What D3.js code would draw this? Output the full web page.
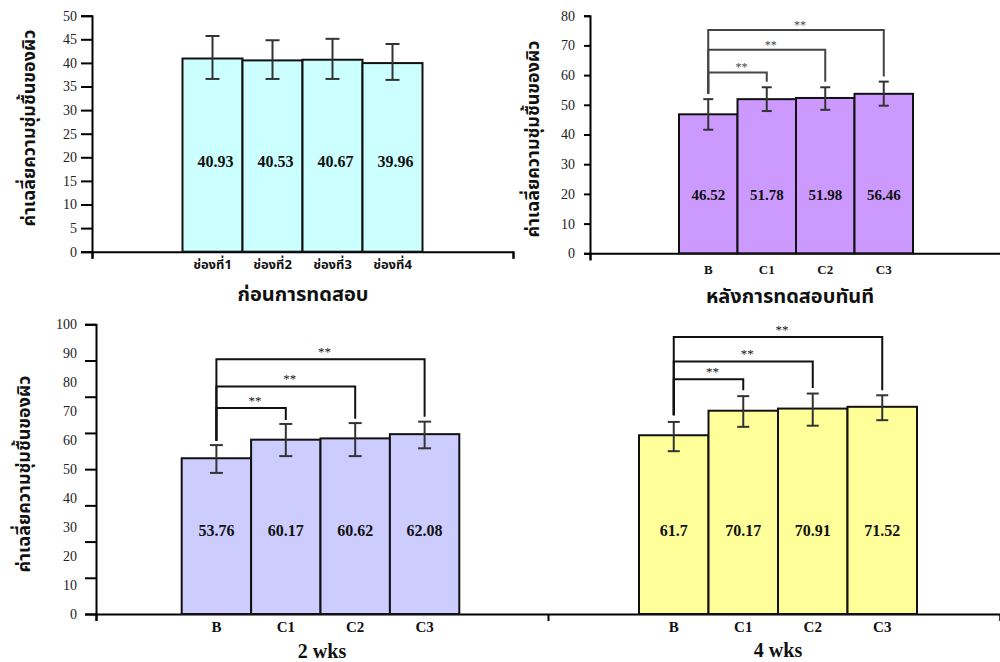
<!DOCTYPE html>
<html>
<head>
<meta charset="utf-8">
<script src="https://cdn.jsdelivr.net/npm/d3@7"></script>
<style>
  html, body { margin: 0; padding: 0; background: #fff; }
  svg { display: block; }
  .serif { font-family: "Liberation Serif", "Times New Roman", serif; }
  .thai { font-family: "Noto Sans Thai", "Loma", "Garuda", "Tlwg Typo", "DejaVu Sans", sans-serif; }
</style>
</head>
<body>
<svg id="chart" width="1000" height="662"></svg>
<script>
// ---------- DATA ----------
const yLabelText = "ค่าเฉลี่ยความชุ่มชื้นของผิว";

// Panel 1: before test
const beforeTitle = "ก่อนการทดสอบ";
const beforeCats = ["ช่องที่1", "ช่องที่2", "ช่องที่3", "ช่องที่4"];
const beforeValues = [40.93, 40.53, 40.67, 39.96];
const beforeLabels = ["40.93", "40.53", "40.67", "39.96"];
const beforeErrHigh = [45.7, 44.8, 45.1, 44.0];
const beforeErrLow = [36.6, 36.6, 36.6, 36.4];
const beforeTicks = [0, 5, 10, 15, 20, 25, 30, 35, 40, 45, 50];

// Shared group categories
const groupCats = ["B", "C1", "C2", "C3"];

// Panel 2: immediately after test (bar heights as drawn, labels as printed)
const afterTitle = "หลังการทดสอบทันที";
const afterValues = [46.8, 51.9, 52.3, 53.7];
const afterLabels = ["46.52", "51.78", "51.98", "56.46"];
const afterErrHigh = [51.9, 55.9, 55.9, 57.8];
const afterErrLow = [41.6, 47.9, 48.3, 49.7];
const afterBracketLevels = [60.9, 68.5, 75.2];
const afterBracketStart = 53.7;
const afterBracketEnds = [57.8, 57.8, 59.5];
const afterTicks = [0, 10, 20, 30, 40, 50, 60, 70, 80];

// Panel 3: 2 wks and 4 wks
const wk2Title = "2 wks";
const wk2Values = [53.76, 60.17, 60.62, 62.08];
const wk2Labels = ["53.76", "60.17", "60.62", "62.08"];
const wk2ErrHigh = [58.3, 65.6, 65.9, 66.4];
const wk2ErrLow = [48.7, 54.5, 54.5, 57.2];
const wk2BracketLevels = [71.1, 78.5, 87.9];
const wk2BracketStart = 59.8;
const wk2BracketEnds = [67.0, 67.4, 68.1];

const wk4Title = "4 wks";
const wk4Values = [61.7, 70.17, 70.91, 71.52];
const wk4Labels = ["61.7", "70.17", "70.91", "71.52"];
const wk4ErrHigh = [66.3, 75.2, 76.1, 75.5];
const wk4ErrLow = [56.2, 64.6, 65.0, 66.9];
const wk4BracketLevels = [81.0, 87.2, 95.6];
const wk4BracketStart = 68.6;
const wk4BracketEnds = [77.2, 78.0, 77.2];

const bottomTickLabels = [0, 10, 20, 30, 40, 50, 60, 70, 80, 90, 100];
const bottomTickMarks = [0, 12.5, 25, 37.5, 50, 62.5, 75, 87.5, 100];
const sigMark = "**";

// ---------- DRAWING ----------
const svg = d3.select("#chart");

function yAxis(g, y, x, ticks, opts) {
  const ax = g.append("g").attr("transform", `translate(${x},0)`);
  const a = d3.axisLeft(y).tickValues(ticks).tickSizeOuter(0)
    .tickSize(opts.tickSize).tickPadding(opts.pad);
  if (opts.noLabels) a.tickFormat("");
  ax.call(a);
  ax.select(".domain").attr("stroke", "#000").attr("stroke-width", 2);
  ax.selectAll(".tick line").attr("stroke", "#000").attr("stroke-width", 2);
  ax.selectAll(".tick text").attr("class", "serif").attr("font-size", opts.fs || 14).attr("fill", "#222");
  if (opts.noLine) ax.select(".domain").remove();
  return ax;
}

function xBaseline(g, x0, x1, yPix, boundaries) {
  const s = d3.scaleLinear().domain([0, boundaries]).range([x0, x1]);
  const ax = g.append("g").attr("transform", `translate(0,${yPix})`);
  ax.call(d3.axisBottom(s).tickValues(d3.range(boundaries + 1)).tickSizeOuter(0).tickSize(7).tickFormat(""));
  ax.select(".domain").attr("stroke", "#000").attr("stroke-width", 2);
  ax.selectAll(".tick line").attr("stroke", "#000").attr("stroke-width", 2);
}

function bars(g, cats, values, labels, errHi, errLo, x, y, o) {
  const data = cats.map((c, i) => ({ c, v: values[i], lab: labels[i], hi: errHi[i], lo: errLo[i] }));
  g.selectAll(null).data(data).enter().append("rect")
    .attr("x", d => x(d.c)).attr("width", x.bandwidth())
    .attr("y", d => y(d.v)).attr("height", d => y(0) - y(d.v))
    .attr("fill", o.fill).attr("stroke", "#111").attr("stroke-width", 2);
  const cx = d => x(d.c) + x.bandwidth() / 2;
  // error bars
  const eb = g.selectAll(null).data(data).enter().append("g");
  eb.append("line").attr("x1", cx).attr("x2", cx).attr("y1", d => y(d.hi)).attr("y2", d => y(d.lo))
    .attr("stroke", "#333").attr("stroke-width", 2);
  ["hi", "lo"].forEach(k => {
    eb.append("line").attr("x1", d => cx(d) - o.cap / 2).attr("x2", d => cx(d) + o.cap / 2)
      .attr("y1", d => y(d[k])).attr("y2", d => y(d[k]))
      .attr("stroke", "#333").attr("stroke-width", 2);
  });
  // value labels
  g.selectAll(null).data(data).enter().append("text")
    .attr("class", "serif").attr("font-weight", "bold").attr("font-size", o.valFs)
    .attr("x", d => cx(d) + (o.valDx || 0)).attr("y", o.valY).attr("text-anchor", "middle")
    .attr("dominant-baseline", "central").attr("fill", "#111").text(d => d.lab);
  // category labels
  g.selectAll(null).data(data).enter().append("text")
    .attr("class", o.catClass).attr("font-weight", "bold").attr("font-size", o.catFs)
    .attr("x", cx).attr("y", o.catY).attr("text-anchor", "middle")
    .attr("dominant-baseline", "central").attr("fill", "#111").text(d => d.c);
}

function brackets(g, cats, levels, start, ends, x, y, o) {
  const cx = c => x(c) + x.bandwidth() / 2;
  const xb = cx(cats[0]);
  levels.forEach((lv, i) => {
    const xe = cx(cats[i + 1]);
    g.append("path")
      .attr("d", `M${xb},${y(start)}V${y(lv)}H${xe}V${y(ends[i])}`)
      .attr("fill", "none").attr("stroke", o.color).attr("stroke-width", 2);
    g.append("text").attr("class", "serif").attr("font-size", o.fs)
      .style("fill", o.color)
      .attr("x", (xb + xe) / 2 + 4).attr("y", y(lv) - o.dy)
      .attr("text-anchor", "middle").attr("dominant-baseline", "central").text(sigMark);
  });
}

function yLabel(g, cx, cy, fs) {
  g.append("text").attr("class", "thai").attr("font-weight", "bold").attr("font-size", fs)
    .attr("transform", `translate(${cx},${cy}) rotate(-90)`)
    .attr("text-anchor", "middle").attr("dominant-baseline", "central").attr("fill", "#111")
    .text(yLabelText);
}

function title(g, text, cx, cy, fs, cls) {
  g.append("text").attr("class", cls).attr("font-weight", "bold").attr("font-size", fs)
    .attr("x", cx).attr("y", cy).attr("text-anchor", "middle").attr("dominant-baseline", "central")
    .attr("fill", "#111").text(text);
}

// ----- Panel 1 -----
{
  const g = svg.append("g");
  const y = d3.scaleLinear().domain([0, 50]).range([251.7, 15.7]);
  const x = d3.scaleBand().domain(beforeCats).range([182.5, 422.5]).padding(0);
  xBaseline(g, 92, 513, y(0), 1);
  bars(g, beforeCats, beforeValues, beforeLabels, beforeErrHigh, beforeErrLow, x, y,
    { fill: "#CCFFFF", cap: 14, valFs: 16, valY: 161, valDx: 3, catFs: 13, catY: 265, catClass: "thai" });
  yAxis(g, y, 92, beforeTicks, { tickSize: 11, pad: 4, fs: 14 });
  yLabel(g, 29, 128, 18);
  title(g, beforeTitle, 303, 295, 20, "thai");
}

// ----- Panel 2 -----
{
  const g = svg.append("g");
  const y = d3.scaleLinear().domain([0, 80]).range([253.3, 15.7]);
  const x = d3.scaleBand().domain(groupCats).range([679, 913]).padding(0);
  xBaseline(g, 590, 1010, y(0), 1);
  bars(g, groupCats, afterValues, afterLabels, afterErrHigh, afterErrLow, x, y,
    { fill: "#CC99FF", cap: 10, valFs: 15, valY: 195, catFs: 13, catY: 269, catClass: "serif" });
  brackets(g, groupCats, afterBracketLevels, afterBracketStart, afterBracketEnds, x, y,
    { color: "#444", fs: 12, dy: 5 });
  yAxis(g, y, 590, afterTicks, { tickSize: 6, pad: 9, fs: 14 });
  yLabel(g, 533, 139, 18);
  title(g, afterTitle, 790, 297, 20, "thai");
}

// ----- Panel 3 -----
{
  const g = svg.append("g");
  const y = d3.scaleLinear().domain([0, 100]).range([614, 324.3]);
  const x2 = d3.scaleBand().domain(groupCats).range([181.7, 459.3]).padding(0);
  const x4 = d3.scaleBand().domain(groupCats).range([639, 917]).padding(0);
  xBaseline(g, 96, 1000, y(0), 2);
  bars(g, groupCats, wk2Values, wk2Labels, wk2ErrHigh, wk2ErrLow, x2, y,
    { fill: "#CCCCFF", cap: 13, valFs: 16, valY: 530, catFs: 15, catY: 627, catClass: "serif" });
  bars(g, groupCats, wk4Values, wk4Labels, wk4ErrHigh, wk4ErrLow, x4, y,
    { fill: "#FFFF99", cap: 12, valFs: 16, valY: 530, catFs: 15, catY: 627, catClass: "serif" });
  brackets(g, groupCats, wk2BracketLevels, wk2BracketStart, wk2BracketEnds, x2, y,
    { color: "#111", fs: 13, dy: 8 });
  brackets(g, groupCats, wk4BracketLevels, wk4BracketStart, wk4BracketEnds, x4, y,
    { color: "#111", fs: 13, dy: 8 });
  yAxis(g, y, 96, bottomTickMarks, { tickSize: 11, pad: 4, noLabels: true });
  yAxis(g, y, 96, bottomTickLabels, { tickSize: 0, pad: 19, fs: 14, noLine: true });
  yLabel(g, 24, 474, 18);
  title(g, wk2Title, 322, 651, 20, "serif");
  title(g, wk4Title, 778, 650, 20, "serif");
}
</script>
</body>
</html>
